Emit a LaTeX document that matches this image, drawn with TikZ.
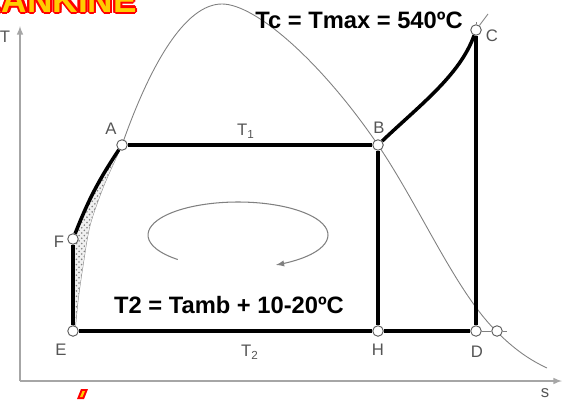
\documentclass[tikz,border=0pt]{standalone}
\usepackage{fontspec}
\setmainfont{Liberation Sans}
\usetikzlibrary{patterns}
\definecolor{titley}{RGB}{255,204,0}
\definecolor{lblgray}{RGB}{85,85,85}

\begin{document}
\begin{tikzpicture}[x=0.02cm, y=-0.02cm,
    pt/.style={circle, draw=lblgray, fill=white, line width=0.5pt, inner sep=0pt, minimum size=6pt},
    thk/.style={line width=2pt},
    thin/.style={gray, line width=0.5pt},
    lbl/.style={text=lblgray, font=\fontsize{9.5}{11}\selectfont},
    big/.style={font=\bfseries\fontsize{13.5}{16}\selectfont},
    ttl/.style={anchor=base east, inner sep=0pt, font=\bfseries\fontsize{20}{20}\selectfont}]
\clip (0,0) rectangle (567,399);

% axes
\draw[gray!70, line width=0.7pt, -latex] (20,381) -- (20,26);
\draw[gray!70, line width=0.7pt, -latex] (20,381) -- (562,381);
\node[lbl] (Tax) at (5,37) {T};
\node[lbl] (sax) at (545,393) {s};

% saturation dome
\draw[thin] plot[smooth] coordinates {(75,331) (78,300) (83,265) (90,225) (104,185) (122,145)}
    .. controls (150,65) and (185,4) .. (222,4)
    .. controls (255,4) and (320,60) .. (378,145)
    .. controls (420,207) and (455,290) .. (496,331)
    .. controls (515,350) and (530,360) .. (547,368);

% pumping area
\fill[gray!12] (73,331) -- (73,239) to[bend left=6] (122,145)
    -- plot[smooth] coordinates {(122,145) (104,185) (90,225) (83,265) (78,300) (75,331)} -- cycle;
\fill[pattern=crosshatch dots, pattern color=gray] (73,331) -- (73,239) to[bend left=6] (122,145)
    -- plot[smooth] coordinates {(122,145) (104,185) (90,225) (83,265) (78,300) (75,331)} -- cycle;

% states
\node[pt] (A) at (122,145) {};
\node[pt] (B) at (378,145) {};
\node[pt] (C) at (476,30) {};
\node[pt] (D) at (476,331) {};
\node[pt] (E) at (73,331) {};
\node[pt] (F) at (73,239) {};
\node[pt] (H) at (378,331) {};
\node[pt] (V) at (497,331) {};

% cycle
\draw[thk] (E) -- (F);
\draw[thk] (F) to[bend left=6] (A);
\draw[thk] (A) -- (B);
\draw[thk] (B) -- (H);
\draw[thk] (E) -- (H) -- (D);
\draw[thk] (D) -- (C);
\draw[thk] (B) .. controls (420,105) and (460,75) .. (C);
\draw[thin] (D) -- (V);
\draw[thin] (V) -- (507,331);
\draw[thin] (C) -- (488,14);
\draw[thin] (C) -- (476,22);

% labels
\node[lbl] (lA) at (111,129) {A};
\node[lbl] (lB) at (379,128) {B};
\node[lbl] (lC) at (492,36) {C};
\node[lbl] (lD) at (477,352) {D};
\node[lbl] (lE) at (61,350) {E};
\node[lbl] (lF) at (59,242) {F};
\node[lbl] (lH) at (378,350) {H};
\node[lbl] (lT1) at (246,131) {T\textsubscript{1}};
\node[lbl] (lT2) at (250,352) {T\textsubscript{2}};

% sense of the cycle
\draw[gray, line width=0.6pt, -latex] plot[domain=132:425, samples=60, smooth]
    ({238+90*cos(\x)}, {235+33*sin(\x)});

\node[big] (tmax) at (359,20) {Tc = Tmax = 540ºC};
\node[big] (tamb) at (229,305) {T2 = Tamb + 10-20ºC};

% title, cut by the frame
\foreach \dx/\dy [count=\i] in {-1.2/0, 1.2/0, 0/1.2, 0/-1.2, -0.9/-0.9, 0.9/0.9, -0.9/0.9, 0.9/-0.9}
    \node[ttl, text=red] (ttlr\i) at ([shift={(\dx pt,\dy pt)}]137,12) {RANKINE};
\node[ttl, text=titley] (ttl) at (137,12) {RANKINE};
\fill[red] (77,399) -- (81,389) -- (88,389) -- (84,399) -- cycle;
\fill[titley] (80,397) -- (82.5,391) -- (85,391) -- (82.5,397) -- cycle;
\end{tikzpicture}
\end{document}
